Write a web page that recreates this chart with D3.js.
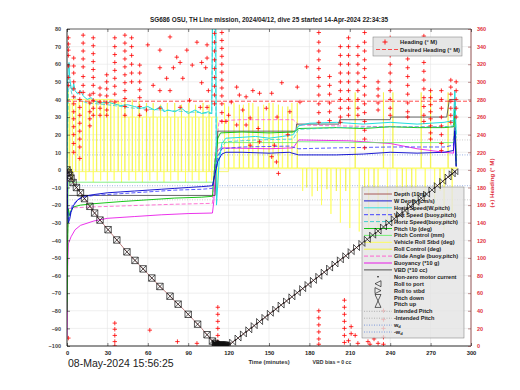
<!DOCTYPE html>
<html><head><meta charset="utf-8">
<script src="https://cdn.jsdelivr.net/npm/d3@7"></script>
<style>
body{margin:0;background:#fff}
text{font-family:"Liberation Sans",Arial,sans-serif}
</style>
</head><body>
<svg id="c" width="520" height="390"></svg>
<script>
// ---------- text / ticks ----------
const title = "SG686 OSU, TH Line mission, 2024/04/12, dive 25 started 14-Apr-2024 22:34:35";
const xTicks = [0,30,60,90,120,150,180,210,240,270,300];
const yTicks = [-100,-90,-80,-70,-60,-50,-40,-30,-20,-10,0,10,20,30,40,50,60,70,80];
const yRTicks = [0,20,40,60,80,100,120,140,160,180,200,220,240,260,280,300,320,340,360];
const legendLabels = ["Depth (10m)","W Depth (cm/s)","Horiz Speed(W,pitch)","Vert Speed (buoy,pitch)",
  "Horiz Speed(buoy,pitch)","Pitch Up (deg)","Pitch Control (mm)","Vehicle Roll Stbd (deg)",
  "Roll Control (deg)","Glide Angle (buoy,pitch)","Buoyancy (*10 g)","VBD (*10 cc)",
  "Non-zero motor current","Roll to port","Roll to stbd","Pitch down","Pitch up",
  "Intended Pitch","-Intended Pitch","w_d","-w_d"];

// ---------- series (time in minutes, value) ----------
const depth = [[0,0],[2,-3],[5,-8],[10,-13],[15,-18.5],[20,-24],[25,-29],[30,-33.5],[35,-38],[40,-42.5],
  [45,-47],[50,-51],[55,-55],[60,-59],[65,-63],[70,-67],[75,-70.5],[80,-74.5],[85,-78],[90,-82],[95,-86],
  [100,-90],[105,-94.5],[110,-99],[112,-100],[118,-100],[121,-99],[150,-82],[180,-64.5],[210,-47],
  [240,-29.5],[270,-12],[288,-1],[289,0]];
const descentMarkT = [0,1,2,3,4.5,7,10,13,17,20.5,24.5,30.5,37,44.5,50.5,56.5,63,69,76.5,82.5,90,97,104,108];
const ascentMarkT = [119,123,127,131,135,139,143,147,151,155,159,163,167,171,175,179,183,187,191,195,199,203,
  207,211,215,219,223,227,231,235,239,243,247,251,255,259,263,267,271,275,279,283,286,288];
const bottomMarkT = [110,111,112,113,114,115,116,117,118];

const wSpeed = [[0,0],[0.5,-25],[1,-30],[2,-28],[3,-24],[5,-20],[8,-17],[12,-15],[20,-14],[30,-13],[40,-12.5],
  [50,-12],[60,-11.5],[70,-11],[80,-10.5],[90,-10],[100,-9.5],[108,-9],[110,-2],[112,5],[115,9],[118,10],
  [130,10],[150,9.5],[165,10],[172,8.5],[200,8.5],[220,9],[240,10],[260,9.5],[280,10],[287,11],[288,22],[289,2]];
const vSpeedBuoy = [[0,0],[0.5,-22],[1,-28],[2,-26],[4,-20],[8,-17],[12,-15.5],[20,-14.5],[40,-13.5],
  [60,-12.5],[80,-11.5],[100,-11],[108,-10.5],[110,0],[112,8],[115,12],[130,13],[165,13.5],[172,12],
  [200,12.5],[240,13],[280,13],[287,14],[288,24],[289,2]];
const hSpeedW = [[0,0],[0.5,50],[1,58],[1.5,61],[2,52],[3,47],[4,45],[5,49],[6,45],[8,43],[10,45],[12,42],
  [15,40],[18,41],[20,39],[25,38],[30,38.5],[35,37.5],[40,36.5],[45,37],[50,36],[55,35],[60,36],[65,34],
  [70,36],[72,33],[75,34],[80,33],[85,35],[90,32],[95,34],[100,32],[105,33],[107.5,32],[108,85],
  [110.5,85],[111,-20],[113,5],[115,15],[118,18],[130,18.5],[140,19],[150,18],[160,19],[168,20],
  [172,25],[180,26.5],[200,27],[220,26],[240,27],[260,26],[280,27],[287,28],[288,45],[289,20]];
const hSpeedBuoy = [[0,0],[1,45],[2,48],[4,42],[8,40],[15,38],[30,37],[50,35],[70,34],[90,33],[107.5,32],
  [108,80],[110,80],[111,0],[114,12],[118,16],[140,17],[168,17.5],[172,23],[200,24],[240,24.5],[280,24.5],
  [287,25],[288,40],[289,18]];
const pitchUp = [[0,-80],[0.5,-40],[1,-22],[2,-26],[3,-23],[5,-21],[10,-20],[20,-19.2],[40,-18],[60,-17],
  [80,-16],[100,-15.5],[108,-15],[110,5],[112,18],[114,21],[130,21.5],[150,21],[168,21.5],[172,23.5],
  [200,24],[220,23.5],[240,24.5],[260,24],[280,24],[287,24.5],[288,35],[289,2]];
const pitchCtl = [[0,-75],[0.5,-30],[1,-7],[20,-7],[60,-7],[108,-7],[109,-7],[111,15],[114,15.5],
  [170,15.5],[172,16],[230,15.5],[287,15.5],[288,30],[289,3]];
const glideAngle = [[0,-70],[0.5,-35],[1,-22],[5,-21.5],[20,-21],[40,-20.5],[60,-20],[80,-19.5],[108,-19],
  [110,10],[113,28],[130,28.5],[168,28.5],[172,25.5],[200,25],[240,24.5],[287,24.5],[288,38],[289,3]];
const buoyancy = [[0,-95],[0.5,-55],[1,-42],[3,-38],[6,-34],[10,-31.5],[20,-29],[30,-27.5],[50,-26.5],
  [70,-25.5],[90,-24.8],[108,-24.5],[109,-18],[111,10],[114,12.5],[150,12],[168,12.5],[172,17],[210,16.5],
  [240,15],[260,12],[280,10],[287,9.5],[288,30],[289,2]];
const vbd = [[0,-14],[1,-14.5],[108,-14.5],[110,-14.5],[112,22],[170,22],[170.5,26],[202,26],[202.5,28.5],
  [240,28.5],[240.5,30],[282,30],[284,40],[288,40],[289,5]];
const desiredHeading = [[0,278],[300,278]];
const wdLevel = [8.5,-9];
const intendedPitchLevel = [17,-17];

// yellow roll series: pulse times, extreme at pulse, level held after pulse
const rollVehT = [1,4,9,14,19.5,25,30,35,40.5,46,51,56,61.5,67,72,77,82.5,88,93,98,103.5,107.5,
  112,117,124,131,138,146,153,160,167,175,182,189,196,203,210,217,224,231,238,245,252,259,266,273,280,286];
const rollVehPeak = [45,-6,-6,-6,-7,-6,-6,-6,-7,-6,-6,-7,-6,-6,-7,-6,-6,-7,-6,-6,-7,-6,
  -10,38,38,37,38,37,38,36,38,-12,-15,-20,-25,-30,-33,-35,-34,-36,-30,-28,-33,-35,-30,-32,-34,-30];
const rollVehLevel = [40,40,40,40,40,40,40,38,30,30,30,30,30,30,30,30,30,30,30,30,30,30,
  1,1,1,1,1,1,1,1,1,1,1,1,1,1,1,1,1,1,1,1,1,1,1,1,1,1];
const rollCtlT = [2,6.5,11.5,16.5,22,27.5,32.5,38,43,48.5,53.5,59,64,69.5,74.5,80,85,90.5,95.5,101,105.5,
  120,128,135,142,150,157,164,171,178,186,193,200,207,214,221,228,235,242,249,256,263,270,277,283];
const rollCtlPeak = [38,38,39,40,40,40,40,39,40,40,39,38,38,37,38,38,37,38,37,38,37,
  36,37,38,36,38,37,36,38,-10,-12,-11,-12,-12,44,-12,-11,44,44,-12,-11,44,44,-12,44];
const rollCtlLevel = [-1,-1,-1,-1,-1,-1,-1,-1,-1,-1,-1,-1,-1,-1,-1,-1,-1,-1,-1,-1,-1,
  1,1,1,1,1,1,1,1,1,1,1,1,1,1,1,1,1,1,1,1,1,1,1,1];

// heading: columns of "+" (time, headings) and scattered points
const headingCols = [
 [1,[350,343,336,330,318,305,296,9]],[5,[327,318,310,300,292,283,275,266,258,249,240,230,220]],
 [9.5,[288,280,271,262,253,244,235,226,213]],[12,[353,344,335,326,317,306,296,288]],
 [17,[285,276,266,258,250]],[19.5,[350,341,332,323,314,305,296,287,279,270,262]],
 [24.5,[293,285,277,270,262]],[29.5,[308,300,292,284,276,268,262]],
 [35.5,[350,340,331,322,313,304,295,286,277,26,19,12,5,0]],
 [43,[353,344,335,326,317,308,299,290,281,272,262]],[48,[350,340,330,320,310,300]],
 [54,[319,310,300,291,282,272,262]],[109.5,[355,345,335,325,315,305,295,285,275]],
 [112,[44,36,28,20,12,5]],[115,[356,347,338,329,320,311,302,293,284,275,265,255]],
 [187,[356,345,335,325,315,305,295,285,275,265,254,40,32,24,16,8,2]],[195,[306,296,286,276,266,256]],
 [203,[340,330,320,310,300,290,280,270,260,254]],[206,[52,44,36,28,20,12,4]],
 [209,[350,340,330,320,310,300,290,280,270,262]],[211,[22,14]],
 [216,[340,330,320,310,300,290,280,270,262]],
 [221,[356,345,335,325,315,305,295,285,275,265,255,245,235,225]],
 [231,[300,292,284,276,268]],[235,[40,30,20,10,2]],[240,[350,340,330,320,310,300,290,280,270,262]],
 [253,[346,336,326,316,306,296,286,276,266,260]],[265,[352,342,332,322,312,302,292,282,272,262,255]],
 [270,[290,282,274,266,258,250,242,235]],[278,[290,280,270,260,250,240,230,222]],
 [285,[302,294,286,278,270,262,254]],[289,[300,290,280,270,260]]
];
const headingScatter = [[60,342],[69,336],[76.5,351],[81.5,328],[89,336],[96.5,345],[104,342],[69,316],
 [74,304],[84,322],[79,316],[86,304],[93,319],[100,322],[69,290],[64,296],[76.5,290],[84,271],[91,279],
 [99,271],[104,271],[59,268],[69,270],[61.5,18],[82,5],[96.5,3],[104,327],[103,316],[100,299],[105,290],
 [122,277],[126,294],[128,285],[133,283],[138,290],[143,287],[152,287],[159.5,299],[171,294],[173,277],
 [178,317],[120,262],[130.5,268],[136,259],[148,270],[156,260],[165.5,266],[118,255],[126,251],[133,251],
 [142,247],[136,228],[143,232],[154,228],[152,215],[155.5,209],[157,196],[164,240],[214,12],[225,2],
 [228,8],[216,3],[223.5,5],[231,3],[209,6]];

// ---------- scales ----------
const svg = d3.select("#c");
const x = d3.scaleLinear([0,300],[67,471]);
const y = d3.scaleLinear([-100,80],[346,29]);
const yR = d3.scaleLinear([0,360],[346,29]);

// grid
const g = svg.append("g");
g.selectAll(".gx").data(xTicks).join("line").attr("x1",d=>x(d)).attr("x2",d=>x(d))
  .attr("y1",29).attr("y2",346).attr("stroke","#e4e4e4").attr("stroke-width",0.6);
g.selectAll(".gy").data(yTicks).join("line").attr("y1",d=>y(d)).attr("y2",d=>y(d))
  .attr("x1",67).attr("x2",471).attr("stroke","#e4e4e4").attr("stroke-width",0.6);

svg.append("clipPath").attr("id","clip").append("rect").attr("x",67).attr("y",29).attr("width",404).attr("height",317);
const plot = svg.append("g").attr("clip-path","url(#clip)");
const line = d3.line().x(d=>x(d[0])).y(d=>y(d[1]));
const lineR = d3.line().x(d=>x(d[0])).y(d=>yR(d[1]));

function pulses(T,P,L,first){
  const pts=[[0,first]]; let prev=first;
  T.forEach((t,i)=>{pts.push([t-0.15,prev]);pts.push([t,P[i]]);pts.push([t+0.15,L[i]]);prev=L[i];});
  pts.push([290,prev]); return pts;
}
const rollVeh = pulses(rollVehT,rollVehPeak,rollVehLevel,0);
const rollCtl = pulses(rollCtlT,rollCtlPeak,rollCtlLevel,0);

function draw(data,color,w,dash,fn){
  plot.append("path").datum(data).attr("d",(fn||line)).attr("fill","none").attr("stroke",color)
    .attr("stroke-width",w).attr("stroke-dasharray",dash||null);
}
// dotted reference lines
wdLevel.forEach(v=>draw([[0,v],[300,v]],"#6f8fd8",0.7,"1,1.5"));
intendedPitchLevel.forEach(v=>draw([[0,v],[300,v]],"#aaaaaa",0.6,"1,1.5"));

draw(rollCtl,"#f2f23a",0.7);
draw(rollVeh,"#ffff4d",0.7);
draw(buoyancy,"#e600e6",0.8);
draw(glideAngle,"#ff55cc",0.8,"4,2");
draw(vbd,"#404040",0.8);
draw(pitchCtl,"#66ee66",0.8);
draw(pitchUp,"#00c000",0.9);
draw(hSpeedBuoy,"#33cccc",0.8,"4,2");
draw(hSpeedW,"#22dede",1.0);
draw(vSpeedBuoy,"#3030ff",0.8,"4,2");
draw(wSpeed,"#0000cc",0.9);
draw(depth,"#a04848",0.7);
draw(desiredHeading,"#ff2020",0.8,"4,2",lineR);

// heading crosses
const hPts = [];
headingCols.forEach(c=>c[1].forEach(h=>hPts.push([c[0],h])));
headingScatter.forEach(p=>hPts.push(p));
plot.selectAll(".hp").data(hPts).join("path")
  .attr("d",d=>{const cx=x(d[0]),cy=yR(d[1]);return `M${cx-2.2},${cy}H${cx+2.2}M${cx},${cy-2.2}V${cy+2.2}`;})
  .attr("stroke","#ff0000").attr("stroke-width",0.8);

// axes frame
svg.append("line").attr("x1",67).attr("x2",67).attr("y1",29).attr("y2",346).attr("stroke","#000").attr("stroke-width",0.8);
svg.append("line").attr("x1",67).attr("x2",471).attr("y1",346).attr("y2",346).attr("stroke","#000").attr("stroke-width",0.8);
svg.append("line").attr("x1",67).attr("x2",471).attr("y1",29).attr("y2",29).attr("stroke","#000").attr("stroke-width",0.6);
svg.append("line").attr("x1",471).attr("x2",471).attr("y1",29).attr("y2",346).attr("stroke","#803030").attr("stroke-width",0.8);

const xAx = svg.append("g").attr("transform","translate(0,346)")
  .call(d3.axisBottom(x).tickValues(xTicks).tickSize(-3).tickPadding(5));
xAx.select(".domain").remove();
xAx.selectAll("text").attr("font-size",5.8).attr("font-weight","bold").attr("fill","#222");
xAx.selectAll("line").attr("stroke","#000").attr("stroke-width",0.5);
const xTop = svg.append("g").attr("transform","translate(0,29)")
  .call(d3.axisTop(x).tickValues(xTicks).tickSize(-3).tickFormat(""));
xTop.select(".domain").remove(); xTop.selectAll("line").attr("stroke","#000").attr("stroke-width",0.5);
const yAx = svg.append("g").attr("transform","translate(67,0)")
  .call(d3.axisLeft(y).tickValues(yTicks).tickSize(-3).tickPadding(6));
yAx.select(".domain").remove();
yAx.selectAll("text").attr("font-size",5.5).attr("font-weight","bold").attr("fill","#444");
yAx.selectAll("line").attr("stroke","#000").attr("stroke-width",0.5);
const yRAx = svg.append("g").attr("transform","translate(471,0)")
  .call(d3.axisRight(yR).tickValues(yRTicks).tickSize(-3).tickPadding(6));
yRAx.select(".domain").remove();
yRAx.selectAll("text").attr("font-size",5.5).attr("font-weight","bold").attr("fill","#e0303c");
yRAx.selectAll("line").attr("stroke","#803030").attr("stroke-width",0.5);

// depth markers
function bowX(cx,cy,s){return `M${cx-s},${cy-s}L${cx+s},${cy+s}L${cx+s},${cy-s}L${cx-s},${cy+s}ZM${cx-s},${cy-s}L${cx+s},${cy-s}M${cx-s},${cy+s}L${cx+s},${cy+s}`;}
function bow(cx,cy,s){return `M${cx-s},${cy-s}L${cx+s},${cy+s}L${cx+s},${cy-s}L${cx-s},${cy+s}Z`;}
const dInterp = t=>{for(let i=1;i<depth.length;i++){if(t<=depth[i][0]){const a=depth[i-1],b=depth[i];return a[1]+(b[1]-a[1])*(t-a[0])/(b[0]-a[0]);}}return 0;};

// legend boxes
const lg = svg.append("g");
lg.append("rect").attr("x",373).attr("y",37).attr("width",89).attr("height",19)
  .attr("fill","#e6e6e6").attr("stroke","#777").attr("stroke-width",0.5);
lg.append("path").attr("d","M382.5,42H387.5M385,39.5V44.5").attr("stroke","#f00").attr("stroke-width",0.9);
lg.append("line").attr("x1",376).attr("x2",398).attr("y1",49.5).attr("y2",49.5).attr("stroke","#f22").attr("stroke-dasharray","4,2").attr("stroke-width",0.8);
lg.append("text").attr("x",400).attr("y",44).attr("font-size",5.8).attr("font-weight","bold").attr("fill","#222").text("Heading (° M)");
lg.append("text").attr("x",400).attr("y",51.5).attr("font-size",5.8).attr("font-weight","bold").attr("fill","#222").text("Desired Heading (° M)");

lg.append("rect").attr("x",362).attr("y",187).attr("width",102).attr("height",151)
  .attr("fill","#e4e4e4").attr("fill-opacity",0.8).attr("stroke","#777").attr("stroke-width",0.5);
const legStyles = [["#a04848",""],["#0000cc",""],["#22dede",""],["#3030ff","4,2"],["#33cccc","4,2"],
  ["#00c000",""],["#66ee66",""],["#ffff4d",""],["#f2f23a",""],["#ff55cc","4,2"],["#e600e6",""],["#404040",""],
  null,null,null,null,null,["#aaaaaa","1,1.5"],["#aaaaaa","1,1.5"],["#6f8fd8","1,1.5"],["#6f8fd8","1,1.5"]];
legendLabels.forEach((lab,i)=>{
  const ly = 194 + 6.9*i;
  const st = legStyles[i];
  if(st){lg.append("line").attr("x1",364).attr("x2",392).attr("y1",ly).attr("y2",ly).attr("stroke",st[0])
     .attr("stroke-width",0.9).attr("stroke-dasharray",st[1]||null);}
  const t = lg.append("text").attr("x",394).attr("y",ly+2).attr("font-size",5.6).attr("font-weight","bold").attr("fill","#222");
  if(lab==="w_d"||lab==="-w_d"){t.text(lab[0]==="-"?"-w":"w");t.append("tspan").attr("font-size",4).attr("dy",1.2).text("d");}
  else t.text(lab);
});
// legend markers
lg.append("circle").attr("cx",378).attr("cy",194+6.9*12).attr("r",0.8).attr("fill","#000");
{const cy=194+6.9*13;lg.append("path").attr("d",`M375,${cy}L381,${cy-3}L381,${cy+3}Z`).attr("fill","none").attr("stroke","#000").attr("stroke-width",0.6);}
{const cy=194+6.9*14;lg.append("path").attr("d",`M381,${cy}L375,${cy-3}L375,${cy+3}Z`).attr("fill","none").attr("stroke","#000").attr("stroke-width",0.6);}
{const cy=194+6.9*15;lg.append("path").attr("d",`M375,${cy-3}L381,${cy-3}L378,${cy+3.4}Z`).attr("fill","none").attr("stroke","#000").attr("stroke-width",0.6);}
{const cy=194+6.9*16;lg.append("path").attr("d",`M375,${cy+3}L381,${cy+3}L378,${cy-3.4}Z`).attr("fill","none").attr("stroke","#000").attr("stroke-width",0.6);}

// markers on depth path (drawn on top)
const mk = svg.append("g").attr("clip-path","url(#clip)");
mk.selectAll(".dm").data(descentMarkT).join("path").attr("d",t=>bowX(x(t),y(dInterp(t)),3.2))
  .attr("fill","none").attr("stroke","#111").attr("stroke-width",0.7);
mk.selectAll(".am").data(ascentMarkT).join("path").attr("d",t=>bow(x(t),y(dInterp(t)),3))
  .attr("fill","none").attr("stroke","#111").attr("stroke-width",0.7);
mk.selectAll(".bm").data(bottomMarkT).join("path").attr("d",t=>bowX(x(t),y(dInterp(t))-1,3))
  .attr("fill","#111").attr("stroke","#111").attr("stroke-width",0.8);

// texts
svg.append("text").attr("x",269).attr("y",22).attr("text-anchor","middle").attr("font-size",6.4)
  .attr("font-weight","bold").attr("fill","#222").text(title);
svg.append("text").attr("x",269).attr("y",364).attr("text-anchor","middle").attr("font-size",5.8)
  .attr("font-weight","bold").attr("fill","#333").text("Time (minutes)");
svg.append("text").attr("x",332).attr("y",364).attr("text-anchor","middle").attr("font-size",5.2)
  .attr("font-weight","bold").attr("fill","#333").text("VBD bias = 0 cc");
svg.append("text").attr("x",68).attr("y",367).attr("font-size",10.5).attr("fill","#222").text("08-May-2024 15:56:25");
svg.append("text").attr("transform","translate(494,183) rotate(-90)").attr("text-anchor","middle")
  .attr("font-size",6.2).attr("font-weight","bold").attr("fill","#e0303c").text("(+) Heading (° M)");
</script>
</body></html>
